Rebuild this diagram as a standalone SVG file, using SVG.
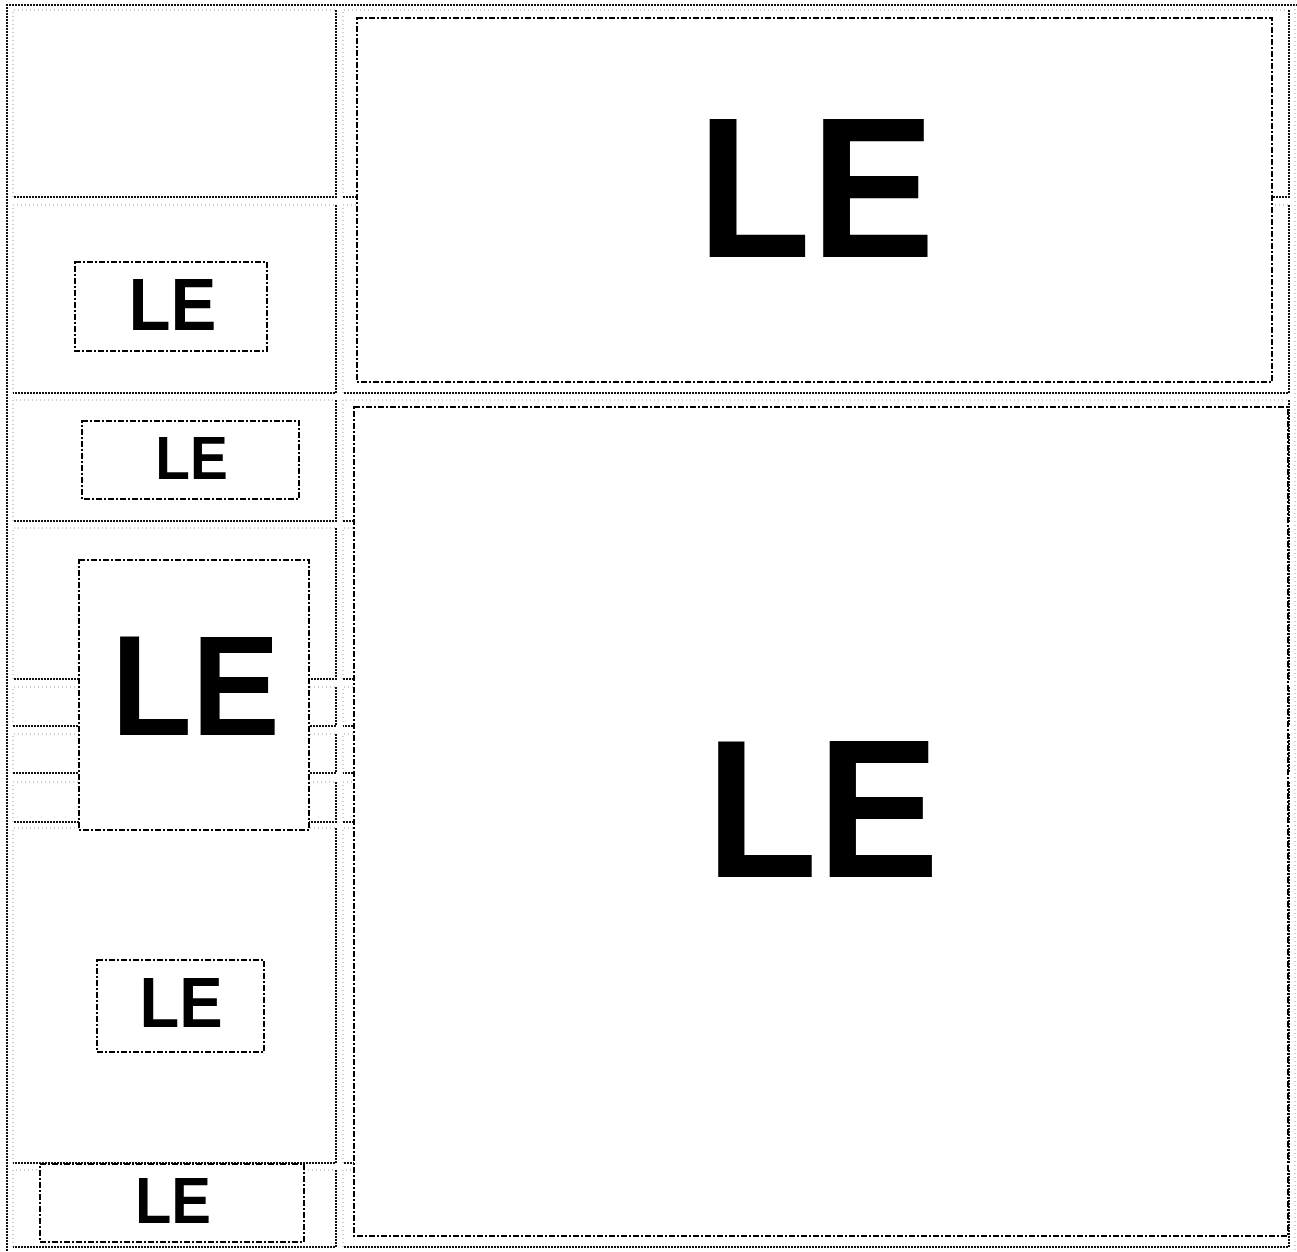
<svg xmlns="http://www.w3.org/2000/svg" width="1297" height="1252" viewBox="0 0 1297 1252">
<style>
.lt{fill:none;stroke:#a0a0a0;stroke-width:1;stroke-dasharray:1 3}
.dk{fill:none;stroke:#111;stroke-width:2;stroke-dasharray:2 1}
.box{fill:#fff;stroke:#000;stroke-width:2;stroke-dasharray:6 2 2 2}
.le{font-family:"Liberation Sans",Arial,sans-serif;font-weight:bold;fill:#000;text-anchor:middle}
</style>
<rect width="1297" height="1252" fill="#fff"/>
<g id="table">
<path class="dk" d="M7 1251V5H1297"/>
<path class="lt" d="M1295 5V1251"/>
</g>
<g id="cells">
<path class="lt" d="M13 197V10H336 M343 197V10H1289"/><path class="dk" d="M336 10V197H13 M1289 10V197H343"/>
<path class="lt" d="M13 393V205H336 M343 393V205H1289"/><path class="dk" d="M336 205V393H13 M1289 205V393H343"/>
<path class="lt" d="M13 521V400H336 M343 521V400H1289"/><path class="dk" d="M336 400V521H13 M1289 400V521H343"/>
<path class="lt" d="M13 679V528H336 M343 679V528H1289"/><path class="dk" d="M336 528V679H13 M1289 528V679H343"/>
<path class="lt" d="M13 726V687H336 M343 726V687H1289"/><path class="dk" d="M336 687V726H13 M1289 687V726H343"/>
<path class="lt" d="M13 773V734H336 M343 773V734H1289"/><path class="dk" d="M336 734V773H13 M1289 734V773H343"/>
<path class="lt" d="M13 822V782H336 M343 822V782H1289"/><path class="dk" d="M336 782V822H13 M1289 782V822H343"/>
<path class="lt" d="M13 1163V828H336 M343 1163V828H1289"/><path class="dk" d="M336 828V1163H13 M1289 828V1163H343"/>
<path class="lt" d="M13 1247V1170H336 M343 1247V1170H1289"/><path class="dk" d="M336 1170V1247H13 M1289 1170V1247H343"/>
</g>
<g id="connectors"></g>
<g id="n1"><rect class="box" x="357" y="18" width="915" height="364"/><text class="le" transform="translate(816 257) scale(0.93 1)" font-size="200">LE</text></g>
<g id="n2"><rect class="box" x="75" y="262" width="192" height="89"/><text class="le" transform="translate(172.5 330) scale(0.93 1)" font-size="74">LE</text></g>
<g id="n3"><rect class="box" x="82" y="421" width="217" height="78"/><text class="le" transform="translate(191.5 479) scale(0.93 1)" font-size="61">LE</text></g>
<g id="n7"><rect class="box" x="354" y="407" width="934" height="829"/><text class="le" transform="translate(822.5 877) scale(0.93 1)" font-size="196">LE</text></g>
<g id="n4"><rect class="box" x="79" y="560" width="230" height="270"/><text class="le" transform="translate(195.5 735) scale(0.93 1)" font-size="142">LE</text></g>
<g id="n5"><rect class="box" x="97" y="960" width="167" height="92"/><text class="le" transform="translate(181 1027) scale(0.93 1)" font-size="70">LE</text></g>
<g id="n6"><rect class="box" x="40" y="1164" width="264" height="78"/><text class="le" transform="translate(173 1223) scale(0.93 1)" font-size="64">LE</text></g>
</svg>
